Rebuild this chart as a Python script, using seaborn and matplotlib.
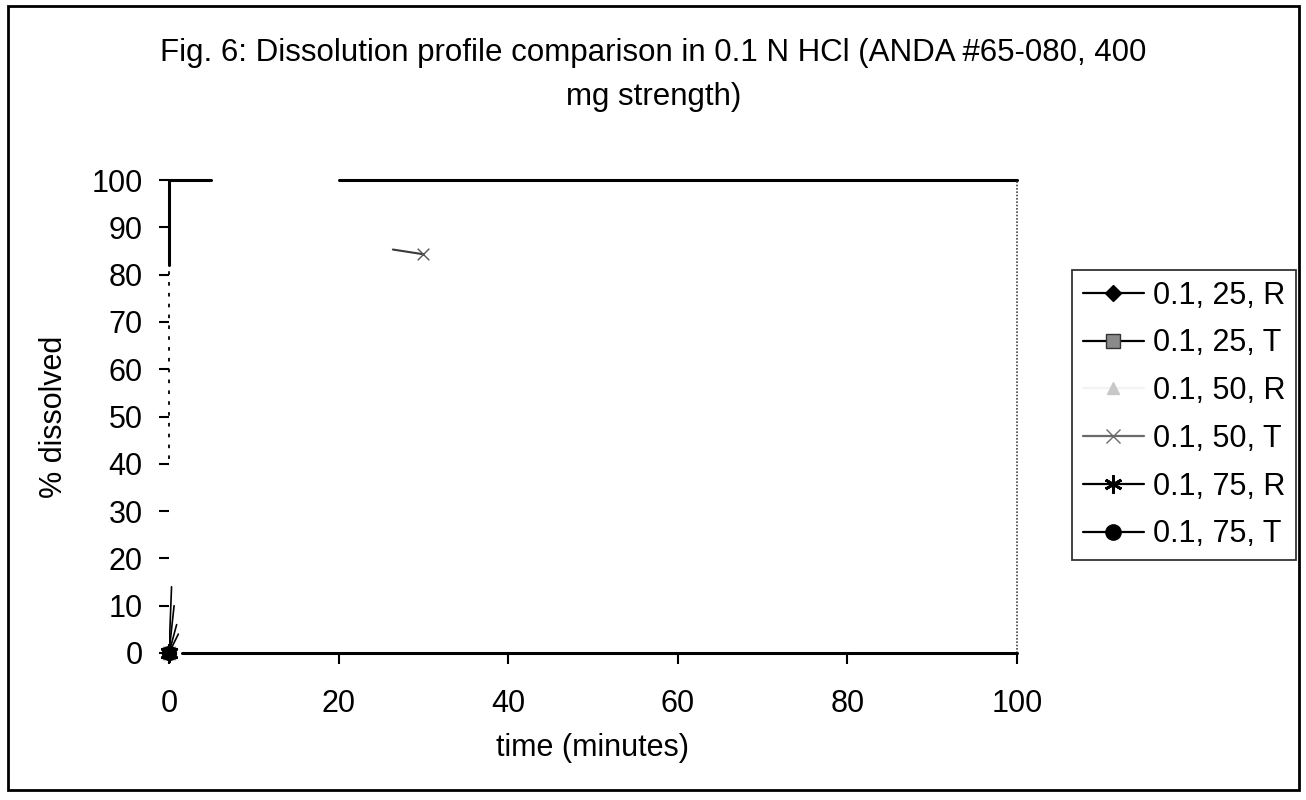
import numpy as np
import pandas as pd
import matplotlib
matplotlib.use("Agg")
import matplotlib.pyplot as plt
from matplotlib.lines import Line2D
from matplotlib.patches import Rectangle
import seaborn as sns

# ---- data ----
series_names = ["0.1, 25, R", "0.1, 25, T", "0.1, 50, R", "0.1, 50, T", "0.1, 75, R", "0.1, 75, T"]
start_time = [0, 0, 0, 0, 0, 0]
start_value = [0, 0, 0, 0, 0, 0]
# surviving fragment of the "0.1, 50, T" curve (rest lost in the scan)
frag_time = [26.4, 30]
frag_value = [85.3, 84.3]
frag_marker_time = [30]
frag_marker_value = [84.3]
# short surviving stubs rising from the origin
stub_time = [0, 0.3, 0, 0.6, 0, 0.9, 0, 1.1]
stub_value = [0, 14, 0, 10, 0, 6, 0, 4]
stub_id = [1, 1, 2, 2, 3, 3, 4, 4]

x_ticks = [0, 20, 40, 60, 80, 100]
y_ticks = [0, 10, 20, 30, 40, 50, 60, 70, 80, 90, 100]
title = "Fig. 6: Dissolution profile comparison in 0.1 N HCl (ANDA #65-080, 400\nmg strength)"

# styles
star = (6, 2, 0)
markers = ["D", "s", "^", "x", star, "o"]
marker_face = ["black", "#8a8a8a", "#c8c8c8", "#6a6a6a", "black", "black"]
marker_edge = ["black", "#333333", "#c8c8c8", "#6a6a6a", "black", "black"]
marker_edge_w = [1.0, 1.0, 1.0, 1.0, 2.0, 1.0]
line_colors = ["black", "black", "#f4f4f4", "#6a6a6a", "black", "black"]
marker_sizes = [7, 9, 7, 9, 12, 10]

sns.set_theme(style="white")
plt.rcParams["font.family"] = ["Liberation Sans", "DejaVu Sans"]
plt.rcParams.update({"text.color": "black", "axes.labelcolor": "black",
                     "xtick.color": "black", "ytick.color": "black"})

fig = plt.figure(figsize=(13.06, 8.0), dpi=100)
ax = fig.add_axes([0.1294, 0.18375, 0.6493, 0.59125])
ax.set_facecolor("white")

# stubs
stub_df = pd.DataFrame({"t": stub_time, "v": stub_value, "id": stub_id})
sns.lineplot(data=stub_df, x="t", y="v", units="id", estimator=None, sort=False,
             color="black", lw=1.2, ax=ax, legend=False)

# fragment of 0.1,50,T
frag_df = pd.DataFrame({"t": frag_time, "v": frag_value})
sns.lineplot(data=frag_df, x="t", y="v", color="#3a3a3a", lw=1.5, ax=ax, legend=False)
ax.scatter(frag_marker_time, frag_marker_value, marker="x", s=70, color="#555555",
           linewidths=1.0, zorder=5)

# origin markers for all series
for i, name in enumerate(series_names):
    d = pd.DataFrame({"t": [start_time[i]], "v": [start_value[i]]})
    sns.scatterplot(data=d, x="t", y="v", marker=markers[i], s=marker_sizes[i] ** 2,
                    color=marker_face[i], edgecolor=marker_edge[i], ax=ax,
                    linewidth=marker_edge_w[i], legend=False, zorder=4, clip_on=False)

ax.set_xlim(0, 100)
ax.set_ylim(0, 100)
ax.set_xticks(x_ticks)
ax.set_yticks(y_ticks)
ax.set_xticklabels([str(v) for v in x_ticks], fontsize=22)
ax.set_yticklabels([str(v) for v in y_ticks], fontsize=22)
ax.tick_params(axis="y", direction="out", length=7, width=1.5, color="black", pad=12, left=True)
ax.tick_params(axis="x", direction="out", length=8, width=1.5, color="black", pad=18, bottom=True)
ax.set_xlabel("time (minutes)", fontsize=22, labelpad=10)
ax.set_ylabel("% dissolved", fontsize=22, labelpad=16)

# scanned, partly faded frame of the plot area
for s in ax.spines.values():
    s.set_visible(False)
T = ax.transAxes
ax.plot([0.0, 0.05], [1, 1], transform=T, color="black", lw=2.2, clip_on=False)
ax.plot([0.20, 1.0], [1, 1], transform=T, color="black", lw=2.2, clip_on=False)
ax.plot([0, 0], [0.82, 1.0], transform=T, color="black", lw=2.2, clip_on=False)
ax.plot([0, 0], [0.41, 0.82], transform=T, color="black", lw=1.3, ls=(0, (2, 4)), clip_on=False)
ax.plot([1, 1], [0, 1], transform=T, color="#444444", lw=1.2, ls=(0, (1, 1)), clip_on=False)
ax.plot([0.015, 1.0], [0, 0], transform=T, color="black", lw=2.2, clip_on=False)

fig.text(0.5005, 0.953, title, ha="center", va="top", fontsize=22.5, linespacing=1.62)

handles = []
for i, name in enumerate(series_names):
    handles.append(Line2D([0], [0], color=line_colors[i], lw=1.6, marker=markers[i],
                          markersize=marker_sizes[i] + 1, markerfacecolor=marker_face[i],
                          markeredgecolor=marker_edge[i], markeredgewidth=marker_edge_w[i],
                          label=name))
leg = fig.legend(handles=handles, loc="upper left", bbox_to_anchor=(0.821, 0.6625),
                 fontsize=22, frameon=True, fancybox=False, edgecolor="black",
                 handlelength=2.0, handletextpad=0.3, labelspacing=0.58, borderpad=0.35,
                 borderaxespad=0)
leg.get_frame().set_linewidth(1.3)

fig.patches.append(Rectangle((0.0061, 0.0125), 0.9885, 0.98, transform=fig.transFigure,
                             fill=False, edgecolor="black", lw=2.0))

fig.savefig("out.png", dpi=100, facecolor="white")
